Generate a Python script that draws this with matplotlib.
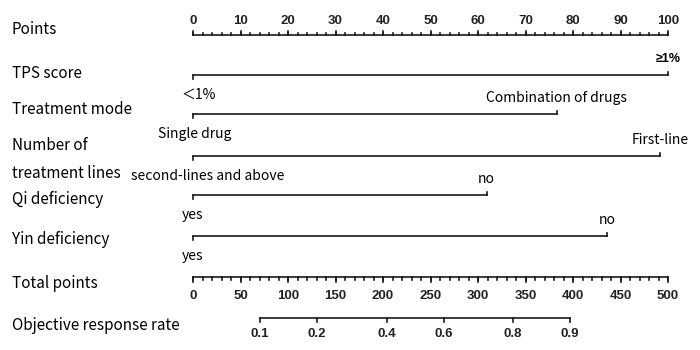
import matplotlib.pyplot as plt

# points scale
point_ticks = list(range(0, 101, 10))
point_minor = list(range(0, 101, 2))

# predictors: (label on left end, label on right end, points of right end)
tps_levels = ["＜1%", "≥1%"]
tps_points = [0, 100]
mode_levels = ["Single drug", "Combination of drugs"]
mode_points = [0, 76.6]
lines_levels = ["second-lines and above", "First-line"]
lines_points = [0, 98.3]
qi_levels = ["yes", "no"]
qi_points = [0, 61.8]
yin_levels = ["yes", "no"]
yin_points = [0, 87.2]

# total points scale
total_ticks = list(range(0, 501, 50))
total_minor = list(range(0, 501, 10))

# objective response rate vs total points
orr_probs = ["0.1", "0.2", "0.4", "0.6", "0.8", "0.9"]
orr_total = [70.5, 130.5, 203.9, 264.2, 336.8, 396.8]

label_font = ["Noto Sans CJK SC", "DejaVu Sans"]
num_font = "Liberation Sans"

fig = plt.figure(figsize=(7, 3.5), dpi=100)
ax = fig.add_axes([0, 0, 1, 1])
px = 4.75  # pixels per point
ax.set_xlim(-193 / px, 100 + 32 / px)
ax.set_ylim(350, 0)
ax.axis("off")

lw = 1.2
col = "#1a1a1a"
tcol = "black"


def fam(txt):
    # the CJK font draws a slanted >=, so take Liberation for that one
    return ["Liberation Sans", "DejaVu Sans"] if "≥" in txt else label_font


# left labels
left = [("Points", 30), ("TPS score", 73), ("Treatment mode", 110),
        ("Number of", 145), ("treatment lines", 173), ("Qi deficiency", 200),
        ("Yin deficiency", 240), ("Total points", 283),
        ("Objective response rate", 326)]
for txt, y in left:
    ax.text(-181 / px, y, txt, family=label_font, fontsize=11,
            va="center", ha="left", color=tcol)

# Points axis (ticks up)
y0 = 35
ax.plot([0, 100], [y0, y0], color=col, lw=lw)
for v in point_minor:
    ax.plot([v, v], [y0, y0 - 2], color=col, lw=lw)
for v in point_ticks:
    ax.plot([v, v], [y0, y0 - 4], color=col, lw=lw)
    ax.text(v, 21, str(v), family=num_font, fontsize=9.5, weight="bold",
            ha="center", va="center", color="#222222")


def cat_row(y, levels, pts, left_dx=0):
    ax.plot(pts, [y, y], color=col, lw=lw)
    ax.plot([pts[0], pts[0]], [y, y + 3.5], color=col, lw=lw)
    ax.plot([pts[1], pts[1]], [y, y - 3.5], color=col, lw=lw)
    ax.text(pts[0] + left_dx, y + 20, levels[0], family=fam(levels[0]),
            fontsize=10, ha="center", va="center", color=tcol)
    wt = "bold" if "≥" in levels[1] else "normal"
    ax.text(pts[1], y - 16, levels[1], family=fam(levels[1]), weight=wt,
            fontsize=10 if wt == "normal" else 9, ha="center", va="center",
            color=tcol)


cat_row(75, tps_levels, tps_points, left_dx=6 / px)
cat_row(114, mode_levels, mode_points, left_dx=2 / px)
cat_row(156, lines_levels, lines_points, left_dx=15 / px)
cat_row(195, qi_levels, qi_points)
cat_row(236, yin_levels, yin_points)

# Total points axis (ticks down)
yt = 277
ax.plot([0, 100], [yt, yt], color=col, lw=lw)
for v in total_minor:
    ax.plot([v / 5, v / 5], [yt, yt + 2.5], color=col, lw=lw)
for v in total_ticks:
    ax.plot([v / 5, v / 5], [yt, yt + 4.5], color=col, lw=lw)
    ax.text(v / 5, 296, str(v), family=num_font, fontsize=9.5, weight="bold",
            ha="center", va="center", color="#222222")

# ORR axis
yo = 318
xs = [t / 5 for t in orr_total]
ax.plot([xs[0], xs[-1]], [yo, yo], color=col, lw=lw)
for x, lab in zip(xs, orr_probs):
    ax.plot([x, x], [yo, yo + 4], color=col, lw=lw)
    ax.text(x, 334, lab, family=num_font, fontsize=9.5, weight="bold",
            ha="center", va="center", color="#222222")

fig.savefig("out.png", dpi=100)
